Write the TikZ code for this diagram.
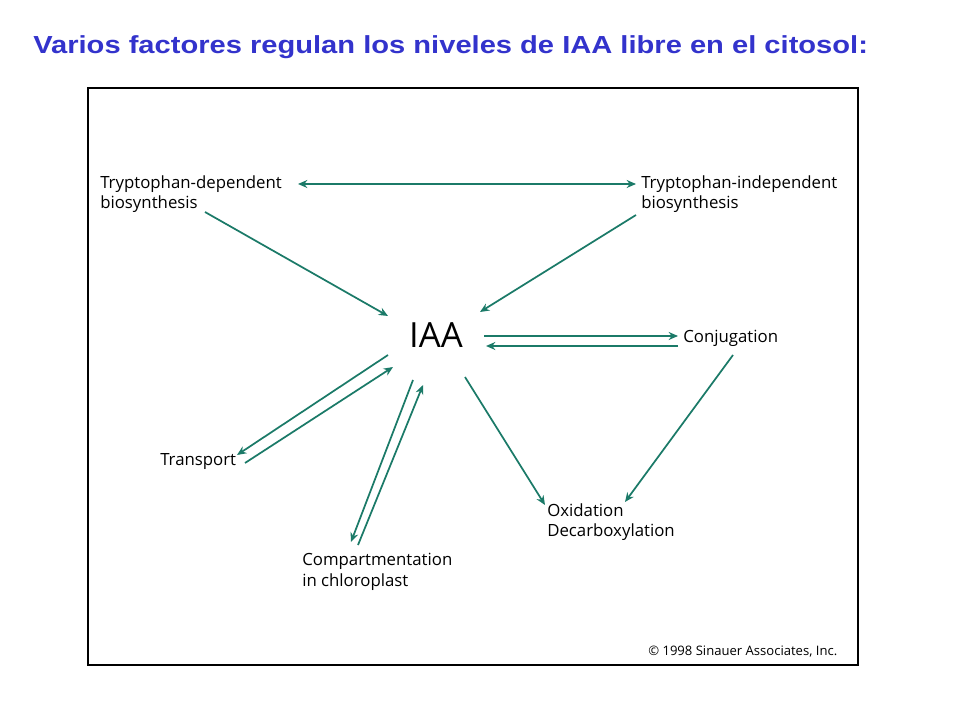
\documentclass[tikz,border=0pt]{standalone}
\usepackage{fontspec}
\setmainfont{Liberation Sans}
\newfontfamily\lblfont{Open Sans}
\usetikzlibrary{arrows.meta}
\definecolor{ttl}{HTML}{3333CC}
\definecolor{tl}{HTML}{1B7A68}
\tikzset{
 lbl/.style={anchor=north west,inner sep=0pt,font=\lblfont\fontsize{12.6}{15.5}\selectfont,align=left},
 arr/.style={draw=tl,line width=1.3pt,-{Stealth[length=7pt,width=6pt]}},
}
\begin{document}
\begin{tikzpicture}[x=0.75pt,y=-0.75pt]
\useasboundingbox (0,0) rectangle (960,720);
\node[anchor=west,inner sep=0pt,text=ttl,font=\fontsize{18.5}{22}\bfseries\selectfont,xscale=1.18] (title) at (33,47) {Varios factores regulan los niveles de IAA libre en el citosol:};
\draw[line width=0.8pt] (88,88) rectangle (858,665);
\node[lbl] (tdep) at (100,175) {Tryptophan-dependent\\biosynthesis};
\node[lbl] (tind) at (641,175) {Tryptophan-independent\\biosynthesis};
\node[anchor=center,inner sep=0pt,font=\lblfont\fontsize{26}{30}\selectfont] (iaa) at (436,335) {IAA};
\node[lbl] (conj) at (683,330) {Conjugation};
\node[lbl] (trans) at (160,453) {Transport};
\node[lbl] (comp) at (302,553) {Compartmentation\\in chloroplast};
\node[lbl] (oxid) at (547,503) {Oxidation\\Decarboxylation};
\node[anchor=north west,inner sep=0pt,font=\lblfont\fontsize{9.8}{11}\selectfont] (copy) at (648,646) {\textcopyright\ 1998 Sinauer Associates, Inc.};
\coordinate (a1) at (298,184); \coordinate (a2) at (636,184);
\draw[arr,{Stealth[length=7pt,width=6pt]}-{Stealth[length=7pt,width=6pt]}] (a1) -- (a2);
\coordinate (b1) at (205,212); \coordinate (b2) at (388,316);
\draw[arr] (b1) -- (b2);
\coordinate (c1) at (636,215); \coordinate (c2) at (480,312);
\draw[arr] (c1) -- (c2);
\coordinate (d1) at (484,336); \coordinate (d2) at (678,336);
\draw[arr] (d1) -- (d2);
\coordinate (e1) at (678,346); \coordinate (e2) at (486,346);
\draw[arr] (e1) -- (e2);
\coordinate (f1) at (388,355); \coordinate (f2) at (237,455);
\draw[arr] (f1) -- (f2);
\coordinate (g1) at (245,463); \coordinate (g2) at (393,367);
\draw[arr] (g1) -- (g2);
\coordinate (h1) at (413,380); \coordinate (h2) at (351,542);
\draw[arr] (h1) -- (h2);
\coordinate (i1) at (358,545); \coordinate (i2) at (423,385);
\draw[arr] (i1) -- (i2);
\coordinate (j1) at (465,377); \coordinate (j2) at (545,505);
\draw[arr] (j1) -- (j2);
\coordinate (k1) at (733,355); \coordinate (k2) at (625,502);
\draw[arr] (k1) -- (k2);
\end{tikzpicture}
\end{document}
